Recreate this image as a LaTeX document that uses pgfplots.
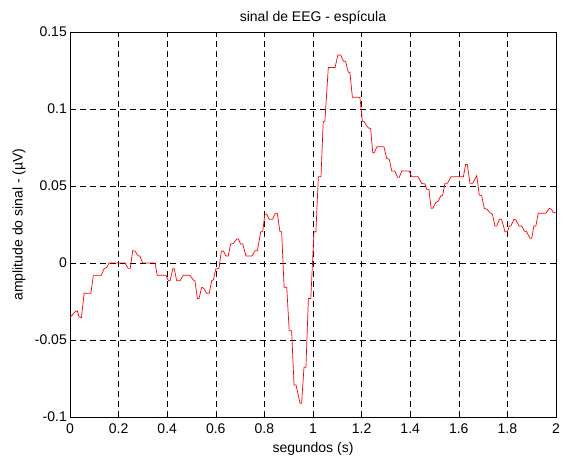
\documentclass[border=0pt]{standalone}
\usepackage{pgfplots}
\pgfplotsset{compat=1.18}
\usepackage{fontspec}
\setmainfont{Liberation Sans}
\pgfplotstableread{
x y
0.000 -0.0355
0.021 -0.0316
0.030 -0.0310
0.037 -0.0350
0.047 -0.0355
0.058 -0.0197
0.086 -0.0197
0.096 -0.0082
0.128 -0.0082
0.141 -0.0035
0.151 -0.0030
0.160 0.0000
0.226 0.0000
0.240 -0.0035
0.248 -0.0035
0.258 0.0080
0.267 0.0078
0.281 0.0045
0.288 0.0045
0.299 0.0000
0.350 0.0000
0.359 -0.0080
0.395 -0.0080
0.405 -0.0115
0.412 -0.0115
0.423 -0.0037
0.429 -0.0037
0.439 -0.0115
0.453 -0.0115
0.466 -0.0080
0.494 -0.0080
0.507 -0.0110
0.514 -0.0115
0.524 -0.0230
0.531 -0.0230
0.542 -0.0158
0.551 -0.0165
0.562 -0.0197
0.573 -0.0197
0.583 -0.0115
0.590 -0.0110
0.600 -0.0039
0.613 -0.0035
0.623 0.0078
0.631 0.0078
0.642 0.0045
0.651 0.0045
0.661 0.0123
0.672 0.0127
0.686 0.0156
0.693 0.0156
0.702 0.0123
0.711 0.0123
0.724 0.0045
0.749 0.0045
0.761 0.0080
0.771 0.0080
0.785 0.0203
0.793 0.0203
0.802 0.0318
0.809 0.0318
0.820 0.0284
0.834 0.0284
0.845 0.0323
0.853 0.0323
0.864 0.0203
0.871 0.0203
0.881 -0.0158
0.892 -0.0158
0.902 -0.0440
0.912 -0.0440
0.922 -0.0792
0.930 -0.0792
0.947 -0.0911
0.953 -0.0911
0.963 -0.0677
0.971 -0.0677
0.981 -0.0230
0.991 -0.0230
1.004 0.0203
1.012 0.0203
1.022 0.0560
1.033 0.0560
1.042 0.0918
1.049 0.0922
1.063 0.1270
1.091 0.1270
1.102 0.1350
1.114 0.1350
1.125 0.1310
1.134 0.1310
1.145 0.1238
1.152 0.1238
1.162 0.1076
1.193 0.1076
1.203 0.0922
1.211 0.0918
1.221 0.0890
1.230 0.0875
1.237 0.0875
1.246 0.0716
1.252 0.0716
1.263 0.0755
1.292 0.0755
1.303 0.0680
1.314 0.0673
1.324 0.0597
1.337 0.0597
1.348 0.0556
1.355 0.0556
1.365 0.0597
1.396 0.0597
1.406 0.0560
1.433 0.0560
1.447 0.0517
1.461 0.0513
1.468 0.0478
1.477 0.0478
1.486 0.0355
1.493 0.0355
1.506 0.0394
1.516 0.0402
1.526 0.0437
1.533 0.0437
1.543 0.0517
1.553 0.0517
1.568 0.0560
1.619 0.0560
1.628 0.0640
1.635 0.0640
1.646 0.0517
1.657 0.0517
1.674 0.0567
1.684 0.0442
1.694 0.0437
1.705 0.0355
1.717 0.0348
1.728 0.0327
1.738 0.0318
1.749 0.0240
1.756 0.0240
1.767 0.0284
1.776 0.0284
1.790 0.0203
1.800 0.0203
1.808 0.0240
1.814 0.0240
1.827 0.0284
1.835 0.0280
1.848 0.0240
1.859 0.0240
1.870 0.0208
1.879 0.0203
1.893 0.0160
1.900 0.0160
1.909 0.0240
1.917 0.0240
1.927 0.0323
1.959 0.0323
1.972 0.0355
1.982 0.0348
1.989 0.0327
2.000 0.0327
}\eegdata
\begin{document}
\begin{tikzpicture}
\begin{axis}[
  name=ax,
  scale only axis,
  width=486pt, height=385pt,
  xmin=0, xmax=2, ymin=-0.1, ymax=0.15,
  xtick={0,0.2,0.4,0.6,0.8,1,1.2,1.4,1.6,1.8,2},
  xticklabels={0,0.2,0.4,0.6,0.8,1,1.2,1.4,1.6,1.8,2},
  ytick={-0.1,-0.05,0,0.05,0.1,0.15},
  yticklabels={-0.1,-0.05,0,0.05,0.1,0.15},
  tick align=inside,
  major tick length=5pt,
  tick style={black, line width=0.6pt},
  xtick pos=both, ytick pos=both,
  axis line style={black, line width=0.8pt},
  grid=major,
  major grid style={black, dashed, dash pattern=on 6pt off 4pt, line width=0.6pt},
  ticklabel style={font=\fontsize{14}{16}\selectfont},
  xticklabel style={inner sep=0pt, yshift=-7pt},
  yticklabel style={inner sep=3pt},
  title style={font=\fontsize{14}{16}\selectfont, at={(axis description cs:0.5,1.022)}, anchor=center},
  xlabel style={font=\fontsize{14}{16}\selectfont, at={(axis description cs:0.5,-0.082)}, anchor=center},
  ylabel style={font=\fontsize{14}{16}\selectfont, at={(axis description cs:-0.105,0.5)}, anchor=center},
  title={sinal de EEG - espícula},
  xlabel={segundos (s)},
  ylabel={amplitude do sinal - (µV)},
]
\addplot[red, line width=0.7pt, mark=none] table[x=x,y=y] {\eegdata};
\end{axis}
\pgfresetboundingbox
\path ([shift={(-70pt,-45pt)}]ax.south west) rectangle ([shift={(6pt,32pt)}]ax.north east);
\end{tikzpicture}
\end{document}
